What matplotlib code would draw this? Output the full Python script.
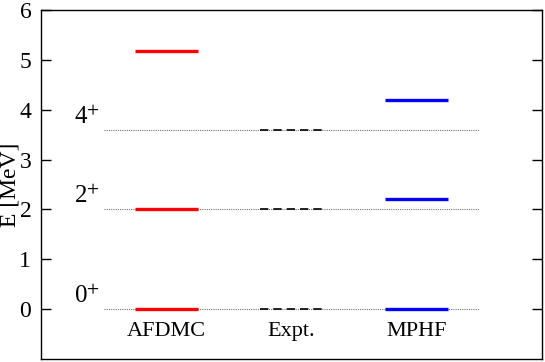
import matplotlib
matplotlib.use("Agg")
import matplotlib.pyplot as plt

plt.rcParams['font.family'] = ['Liberation Serif', 'DejaVu Serif']
plt.rcParams['mathtext.fontset'] = 'stix'

methods = ["AFDMC", "Expt.", "MPHF"]
method_x = [2.0, 4.0, 6.0]
afdmc = [0.0, 2.0, 5.17]
expt = [0.0, 2.0, 3.6]
mphf = [0.0, 2.2, 4.2]
spins = ["0", "2", "4"]

fig = plt.figure(figsize=(5.45, 3.62), dpi=100)
ax = fig.add_axes([41 / 545, 3 / 362, 501 / 545, 349 / 362])

# dotted guides at the experimental levels
for e in expt:
    ax.plot([1.0, 7.0], [e, e], ls=(0, (1, 1)), color='0.45', lw=0.8, zorder=1)

for e in afdmc:
    ax.plot([1.5, 2.5], [e, e], color='#ff0000', lw=2.4, zorder=2, solid_capstyle='butt')
for e in expt:
    ax.plot([3.5, 4.5], [e, e], color='black', lw=1.2, ls=(0, (5, 3)), zorder=2)
for e in mphf:
    ax.plot([5.5, 6.5], [e, e], color='#0000ff', lw=2.4, zorder=2, solid_capstyle='butt')

for s, e in zip(spins, expt):
    ax.text(0.95, e + 0.02, s + "$^{+}$", ha='right', va='bottom', fontsize=18)

for name, x in zip(methods, method_x):
    ax.text(x, -0.25, name, ha='center', va='top', fontsize=16)

ax.set_xlim(0, 8)
ax.set_ylim(-1, 6)
ax.set_xticks([])
ax.set_yticks(range(0, 7))
ax.tick_params(axis='y', direction='in', length=7, width=1, right=True, labelsize=17, pad=7)
ax.set_ylabel("E [MeV]", fontsize=17, va='center')
ax.yaxis.set_label_coords(-0.062, 0.5)
for sp in ax.spines.values():
    sp.set_linewidth(1)

fig.savefig("out.png", dpi=100)
